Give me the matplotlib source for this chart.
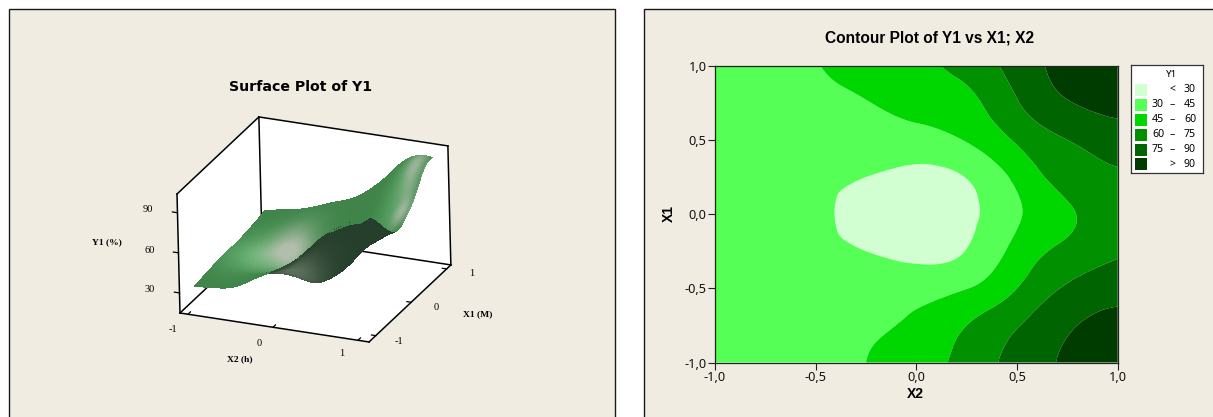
import numpy as np
import matplotlib
matplotlib.use("Agg")
import matplotlib.pyplot as plt
import matplotlib.tri as mtri
from matplotlib.patches import Rectangle
from mpl_toolkits.mplot3d import proj3d

# ---------------- data ----------------
x2_grid = [-1, -0.75, -0.5, -0.25, 0, 0.25, 0.5, 0.75, 1]
x1_grid = [-1, -0.75, -0.5, -0.25, 0, 0.25, 0.5, 0.75, 1]
y1_row_m100 = [31, 32.5, 36, 45, 53.5, 65, 81, 92, 98]
y1_row_m075 = [32, 34, 37, 42, 48, 60, 74, 88, 95]
y1_row_m050 = [33, 33.5, 34, 36, 39, 44.6, 60, 77, 84]
y1_row_m025 = [34, 33, 32, 30, 26.5, 30.5, 50, 64, 73]
y1_row_000 = [34, 33.5, 32, 26.5, 23.5, 27, 43, 58, 68]
y1_row_p025 = [34, 33, 32, 30, 26.5, 30.5, 49, 66, 73]
y1_row_p050 = [35, 35, 35, 36, 39, 46, 62, 75, 82]
y1_row_p075 = [36, 38, 41, 44.4, 50, 56, 74, 89, 95]
y1_row_p100 = [38, 41, 44.5, 50.5, 56, 66, 81, 95, 97]

levels = [0, 30, 45, 60, 75, 90, 200]
band_colors = ['#D1FFD1', '#55FF55', '#00D700', '#009000', '#006400', '#003C00']
legend_low = ['', '30', '45', '60', '75', '']
legend_sep = ['<', '–', '–', '–', '–', '>']
legend_high = ['30', '45', '60', '75', '90', '90']
ticks_contour = [-1.0, -0.5, 0.0, 0.5, 1.0]
ticks_surface_x = [-1, 0, 1]
ticks_surface_y = [-1, 0, 1]
ticks_surface_z = [30, 60, 90]

W, H = 1213, 417
CREAM = '#F0ECE2'
fig = plt.figure(figsize=(W / 100, H / 100), dpi=100, facecolor='white')


def fx(p):
    return p / W


def fy(p):
    return 1 - p / H


# panels
for (l, r) in [(9, 615), (644, 1225)]:
    fig.add_artist(Rectangle((fx(l), fy(430)), (r - l) / W, (430 - 8.5) / H,
                             transform=fig.transFigure, facecolor=CREAM,
                             edgecolor='#1a1a1a', linewidth=1.0, zorder=-5))

# smooth field from the grid
Z = np.array([y1_row_m100, y1_row_m075, y1_row_m050, y1_row_m025, y1_row_000,
              y1_row_p025, y1_row_p050, y1_row_p075, y1_row_p100], float)
GX, GY = np.meshgrid(x2_grid, x1_grid)
tri = mtri.Triangulation(GX.ravel(), GY.ravel())
interp = mtri.CubicTriInterpolator(tri, Z.ravel(), kind='min_E')


def field(n):
    s = np.linspace(-0.99999, 0.99999, n)
    A, B = np.meshgrid(s, s)
    return A, B, np.asarray(interp(A, B).filled(np.nan))


# ---------------- contour panel ----------------
L, R, T, B_ = 715, 1117.7, 65.7, 362.5
ax = fig.add_axes([fx(L), fy(B_), (R - L) / W, (B_ - T) / H])
A, Bb, F = field(200)
ax.contourf(A, Bb, F, levels=levels, colors=band_colors, antialiased=True)
ax.set_xlim(-1, 1)
ax.set_ylim(-1, 1)
ax.set_xticks(ticks_contour)
ax.set_yticks(ticks_contour)
fmt = lambda v: f'{v:.1f}'.replace('.', ',')
ax.set_xticklabels([fmt(v) for v in ticks_contour], family='Noto Sans', fontsize=9.2)
ax.set_yticklabels([fmt(v) for v in ticks_contour], family='Noto Sans', fontsize=9.2)
ax.tick_params(length=5, width=0.8, pad=1, color='#222222', labelcolor='#111111')
for s in ax.spines.values():
    s.set_linewidth(0.9)
    s.set_color('#222222')
fig.text(fx(915), fy(394), 'X2', family='Liberation Sans', fontweight='bold', fontsize=10,
         ha='center', va='center')
fig.text(fx(669), fy(214), 'X1', family='Liberation Sans', fontweight='bold', fontsize=10,
         ha='center', va='center', rotation=90)
fig.text(fx(929.5), fy(38), 'Contour Plot of Y1 vs X1; X2', family='Liberation Sans',
         fontweight='bold', fontsize=11.2, ha='center', va='center')

# legend
lg = fig.add_axes([fx(1130.5), fy(173), 72.5 / W, 108 / H])
lg.set_xlim(1130.5, 1203)
lg.set_ylim(173, 65)
lg.set_xticks([])
lg.set_yticks([])
lg.set_facecolor('white')
for s in lg.spines.values():
    s.set_linewidth(0.9)
    s.set_color('#333333')
lg.text(1172, 75, 'Y1', family='Noto Sans', fontsize=7, ha='center', va='center')
for i, c in enumerate(band_colors):
    yc = 90 + i * 14.9
    lg.add_patch(Rectangle((1134.7, yc - 6), 12, 12, facecolor=c, edgecolor='none'))
    lg.text(1158, yc, legend_low[i], family='Noto Sans', fontsize=7.6, ha='center', va='center')
    lg.text(1172, yc, legend_sep[i], family='Noto Sans', fontsize=7.6, ha='center', va='center')
    lg.text(1190, yc, legend_high[i], family='Noto Sans', fontsize=7.6, ha='center', va='center')

# ---------------- surface panel ----------------
xlim = (-1.094, 1.13)
ylim = (-1.19, 1.12)
zlim = (15, 104)
s3 = 417
ax3 = fig.add_axes([0.0, 0.0, s3 / W, 1.0], projection='3d', proj_type='ortho',
                   computed_zorder=False)
ax3.patch.set_alpha(0)
ax3.set_axis_off()
ax3.view_init(elev=23.6, azim=-65.9, roll=1.44)
ax3.set_box_aspect((1, 0.995, 0.63), zoom=1.0)
ax3.set_xlim(*xlim, view_margin=0)
ax3.set_ylim(*ylim, view_margin=0)
ax3.set_zlim(*zlim, view_margin=0)


def to_px(x, y, z):
    ax3.apply_aspect()
    u, v, _ = proj3d.proj_transform(x, y, z, ax3.get_proj())
    return ax3.transData.transform((u, v))


# scale and place the box so that the front floor corners land on the panel spots
p0, p1 = to_px(xlim[0], ylim[0], zlim[0]), to_px(xlim[1], ylim[0], zlim[0])
zoom = np.hypot(189, 29) / np.hypot(*(p1 - p0))
ax3.set_box_aspect((1, 0.995, 0.63), zoom=zoom)
p0 = to_px(xlim[0], ylim[0], zlim[0])
dx, dy = 180 - p0[0], (H - 313) - p0[1]
ax3.set_position([dx / W, dy / H, s3 / W, 1.0])
ax3.apply_aspect()

xl, xh = xlim
yl, yh = ylim
zl, zh = zlim
# white walls and floor
for wall in [
    ([xl, xh, xh, xl], [yh, yh, yh, yh], [zl, zl, zh, zh]),
    ([xl, xl, xl, xl], [yl, yh, yh, yl], [zl, zl, zh, zh]),
    ([xl, xh, xh, xl], [yl, yl, yh, yh], [zl, zl, zl, zl]),
]:
    ax3.plot_trisurf(*wall, triangles=[[0, 1, 2], [0, 2, 3]], color='white', shade=False,
                     linewidth=0, antialiased=False, zorder=1)
edges = [
    ((xl, yl, zl), (xh, yl, zl)), ((xh, yl, zl), (xh, yh, zl)),
    ((xh, yh, zl), (xl, yh, zl)), ((xl, yh, zl), (xl, yl, zl)),
    ((xl, yl, zl), (xl, yl, zh)), ((xl, yh, zl), (xl, yh, zh)),
    ((xh, yh, zl), (xh, yh, zh)), ((xl, yl, zh), (xl, yh, zh)),
    ((xl, yh, zh), (xh, yh, zh)),
]
for a, b in edges:
    ax3.plot3D(*zip(a, b), color='black', lw=1.1, zorder=2, solid_capstyle='projecting')
for t in ticks_surface_x:
    ax3.plot3D([t, t], [yl, yl + 0.07], [zl, zl], color='black', lw=0.9, zorder=2)
for t in ticks_surface_y:
    ax3.plot3D([xh, xh - 0.05], [t, t], [zl, zl], color='black', lw=0.9, zorder=2)
for t in ticks_surface_z:
    ax3.plot3D([xl, xl - 0.06], [yl, yl], [t, t], color='black', lw=0.9, zorder=2)

# surface
SX, SY, SZ = field(90)
cx = (SX[:-1, :-1] + SX[1:, 1:]) / 2
cy = (SY[:-1, :-1] + SY[1:, 1:]) / 2
sx = 1.0 / (xh - xl)
sy = 0.995 / (yh - yl)
sz = 0.63 / (zh - zl)
dzx = ((SZ[:-1, 1:] - SZ[:-1, :-1]) + (SZ[1:, 1:] - SZ[1:, :-1])) / 2 / (SX[0, 1] - SX[0, 0])
dzy = ((SZ[1:, :-1] - SZ[:-1, :-1]) + (SZ[1:, 1:] - SZ[:-1, 1:])) / 2 / (SY[1, 0] - SY[0, 0])
nx, ny, nz = -dzx * sz / sx, -dzy * sz / sy, np.ones_like(dzx)
facing = nx * 0.375 + ny * (-0.836) + nz * 0.400


def blob(a, b, wa, wb):
    return np.exp(-((cx - a) / wa) ** 2 - ((cy - b) / wb) ** 2)


base = np.array([64, 132, 74]) / 255
halo = np.array([108, 186, 120]) / 255
pale = np.array([178, 190, 172]) / 255
hl = np.clip(1.1 * blob(-0.42, 0.25, 0.26, 0.42) + 0.8 * blob(0.88, 0.8, 0.12, 0.28)
             + 0.8 * blob(0.92, 0.3, 0.1, 0.22), 0, 1)
hw = np.clip(0.9 * blob(-0.6, 0.0, 0.42, 0.5) + 0.5 * blob(0.8, 0.5, 0.2, 0.5), 0, 1)
col = base + (halo - base) * hw[..., None]
col = col + (pale - col) * (hl ** 1.2)[..., None]
dark1 = np.array([38, 62, 44]) / 255
dark2 = np.array([92, 112, 92]) / 255
dm = np.clip(blob(0.0, -0.55, 0.3, 0.35), 0, 1)[..., None]
under = dark1 + (dark2 - dark1) * dm
fc = np.where((facing < 0)[..., None], under, col)
ax3.plot_surface(SX, SY, SZ, rstride=1, cstride=1, facecolors=fc, shade=False,
                 linewidth=0, antialiased=False, zorder=3)

# texts of the surface panel
serif = 'Liberation Serif'
fig.text(fx(301), fy(87), 'Surface Plot of Y1', family='DejaVu Sans', fontweight='bold',
         fontsize=10.2, ha='center', va='center')
for t, (xp, yp) in zip(ticks_surface_z, [(150, 290), (150, 250), (148, 210)]):
    fig.text(fx(xp), fy(yp), str(t), family=serif, fontsize=7.5, ha='center', va='center')
for t, (xp, yp) in zip(ticks_surface_x, [(173, 329), (259, 343), (342, 354)]):
    fig.text(fx(xp), fy(yp), str(t), family=serif, fontsize=7.5, ha='center', va='center')
for t, (xp, yp) in zip(ticks_surface_y, [(399, 342), (436, 308), (472, 273)]):
    fig.text(fx(xp), fy(yp), str(t), family=serif, fontsize=7.5, ha='center', va='center')
fig.text(fx(107), fy(242), 'Y1 (%)', family=serif, fontweight='bold', fontsize=6.8,
         ha='center', va='center')
fig.text(fx(478), fy(314), 'X1 (M)', family=serif, fontweight='bold', fontsize=6.8,
         ha='center', va='center')
fig.text(fx(240), fy(359), 'X2 (h)', family=serif, fontweight='bold', fontsize=6.8,
         ha='center', va='center')

fig.savefig('out.png', dpi=100, facecolor='white')
